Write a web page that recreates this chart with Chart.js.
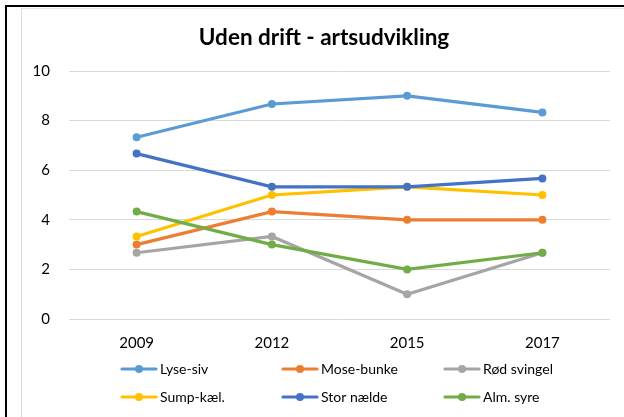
<!DOCTYPE html>
<html>
<head>
<meta charset="utf-8">
<script src="https://cdn.jsdelivr.net/npm/chart.js@4/dist/chart.umd.min.js"></script>
<style>
  html, body { margin: 0; padding: 0; background: #fff; overflow: hidden; width: 624px; height: 417px; }
  #wrap { position: absolute; left: 0; top: 0; width: 648px; height: 417px; }
  #outer { position: absolute; left: 5px; top: 5px; width: 700px; height: 500px; border-left: 2px solid #000; border-top: 2px solid #000; pointer-events: none; }
  #inner { position: absolute; left: 21px; top: 8px; width: 700px; height: 500px; border-left: 1px solid #d9d9d9; border-top: 1px solid #e6e6e6; pointer-events: none; }
</style>
</head>
<body>
<div id="outer"></div>
<div id="inner"></div>
<div id="wrap"><canvas id="c" width="648" height="417"></canvas></div>
<script>
const categories = ['2009', '2012', '2015', '2017'];
const seriesNames = ['Lyse-siv', 'Mose-bunke', 'Rød svingel', 'Sump-kæl.', 'Stor nælde', 'Alm. syre'];
const lyseSiv    = [7.33, 8.67, 9.00, 8.33];
const moseBunke  = [3.00, 4.33, 4.00, 4.00];
const rodSvingel = [2.67, 3.33, 1.00, 2.67];
const sumpKael   = [3.33, 5.00, 5.33, 5.00];
const storNaelde = [6.67, 5.33, 5.33, 5.67];
const almSyre    = [4.33, 3.00, 2.00, 2.67];
const yTickValues = [0, 2, 4, 6, 8, 10];
const seriesColors = ['#5B9BD5', '#ED7D31', '#A5A5A5', '#FFC000', '#4472C4', '#70AD47'];

const FONT = 'Lato, "Open Sans", sans-serif';
const allSeries = [lyseSiv, moseBunke, rodSvingel, sumpKael, storNaelde, almSyre];

const datasets = allSeries.map((vals, i) => ({
  label: seriesNames[i],
  data: vals,
  yAxisID: 'y',
  borderColor: seriesColors[i],
  backgroundColor: seriesColors[i],
  borderWidth: 3.2,
  pointRadius: 4,
  pointHoverRadius: 4,
  pointBorderWidth: 0,
  tension: 0,
  order: allSeries.length - i
}));

const gridLegend = {
  id: 'gridLegend',
  afterDraw(chart) {
    const ctx = chart.ctx;
    const colX = [122, 283, 445];
    const rowY = [369, 397];
    ctx.save();
    ctx.font = '14px ' + FONT;
    ctx.textBaseline = 'middle';
    ctx.textAlign = 'left';
    chart.data.datasets.forEach((ds, i) => {
      const x = colX[i % 3];
      const y = rowY[Math.floor(i / 3)];
      ctx.strokeStyle = ds.borderColor;
      ctx.lineWidth = 3.2;
      ctx.lineCap = 'round';
      ctx.beginPath();
      ctx.moveTo(x, y);
      ctx.lineTo(x + 34, y);
      ctx.stroke();
      ctx.fillStyle = ds.borderColor;
      ctx.beginPath();
      ctx.arc(x + 17, y, 4, 0, Math.PI * 2);
      ctx.fill();
      ctx.fillStyle = '#000';
      ctx.fillText(ds.label, x + 38, y);
    });
    ctx.restore();
  }
};

new Chart(document.getElementById('c'), {
  type: 'line',
  data: { labels: categories, datasets },
  plugins: [gridLegend],
  options: {
    responsive: false,
    animation: false,
    events: [],
    layout: { padding: { left: 0, right: 0, top: 0, bottom: 58 } },
    plugins: {
      legend: { display: false },
      tooltip: { enabled: false },
      title: {
        display: true,
        text: 'Uden drift - artsudvikling',
        color: '#000',
        font: { family: FONT, size: 22.5, weight: 'bold' },
        padding: { top: 24.5, bottom: 19.5 }
      }
    },
    scales: {
      x: {
        offset: true,
        grid: { display: false, drawTicks: false },
        border: { display: false },
        ticks: { color: '#000', font: { family: FONT, size: 15 }, padding: 15 },
        afterFit(scale) { scale.height = 40; }
      },
      y: {
        position: 'left',
        min: 0,
        max: 10,
        afterBuildTicks(scale) { scale.ticks = yTickValues.map(v => ({ value: v })); },
        grid: { color: '#d9d9d9', lineWidth: 1, drawTicks: false },
        border: { display: false },
        ticks: { color: '#000', font: { family: FONT, size: 15 }, padding: 19 },
        afterFit(scale) { scale.width = 69; }
      },
      yPad: {
        position: 'right',
        min: 0,
        max: 10,
        grid: { display: false, drawTicks: false },
        border: { display: false },
        ticks: { display: false },
        afterFit(scale) { scale.width = 38; }
      }
    }
  }
});
</script>
</body>
</html>
